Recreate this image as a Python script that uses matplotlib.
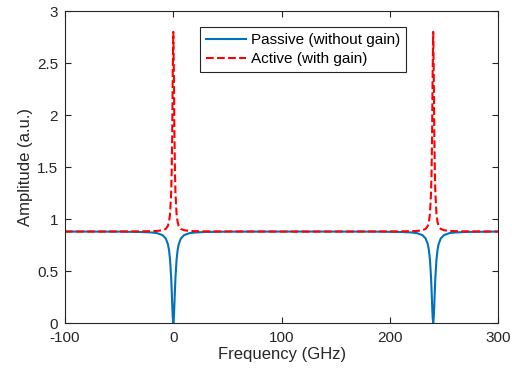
import matplotlib
matplotlib.use("Agg")
import matplotlib.pyplot as plt

plt.rcParams['font.family'] = ['Liberation Sans', 'DejaVu Sans']
plt.rcParams['axes.unicode_minus'] = False

# frequency samples (GHz), dense near the two resonances at 0 and 240 GHz
freq = [-100, -50, -30, -20, -15, -10, -7, -5, -4, -3, -2, -1.5, -1, -0.5, 0,
        0.5, 1, 1.5, 2, 3, 4, 5, 7, 10, 15, 20, 30, 50, 120,
        190, 210, 220, 225, 230, 233, 235, 236, 237, 238, 238.5, 239, 239.5, 240,
        240.5, 241, 241.5, 242, 243, 244, 245, 247, 250, 255, 260, 270, 300]

passive = [0.88, 0.879, 0.876, 0.871, 0.865, 0.846, 0.814, 0.759, 0.704, 0.609, 0.44, 0.317, 0.176, 0.052, 0.0,
           0.052, 0.176, 0.317, 0.44, 0.609, 0.704, 0.759, 0.814, 0.846, 0.865, 0.871, 0.876, 0.879, 0.88,
           0.879, 0.876, 0.871, 0.865, 0.846, 0.814, 0.759, 0.704, 0.609, 0.44, 0.317, 0.176, 0.052, 0.0,
           0.052, 0.176, 0.317, 0.44, 0.609, 0.704, 0.759, 0.814, 0.846, 0.865, 0.871, 0.876, 0.88]

active = [0.88, 0.881, 0.882, 0.884, 0.886, 0.893, 0.905, 0.935, 0.97, 1.05, 1.25, 1.46, 1.84, 2.416, 2.80,
          2.416, 1.84, 1.46, 1.25, 1.05, 0.97, 0.935, 0.905, 0.893, 0.886, 0.884, 0.882, 0.881, 0.88,
          0.881, 0.882, 0.884, 0.886, 0.893, 0.905, 0.935, 0.97, 1.05, 1.25, 1.46, 1.84, 2.416, 2.80,
          2.416, 1.84, 1.46, 1.25, 1.05, 0.97, 0.935, 0.905, 0.893, 0.886, 0.884, 0.882, 0.88]

xticks = [-100, 0, 100, 200, 300]
yticks = [0, 0.5, 1, 1.5, 2, 2.5, 3]

fig = plt.figure(figsize=(5.12, 3.81), dpi=100)
ax = fig.add_axes([0.127, 0.152, 0.846, 0.819])

ax.plot(freq, passive, color="#0072BD", lw=1.5, label="Passive (without gain)")
ax.plot(freq, active, "--", color="r", lw=1.5, label="Active (with gain)")

ax.set_xlim(-100, 300)
ax.set_ylim(0, 3)
ax.set_xticks(xticks)
ax.set_yticks(yticks)
ax.set_yticklabels(["0", "0.5", "1", "1.5", "2", "2.5", "3"])
ax.tick_params(direction="in", top=True, right=True, labelsize=11, colors="#262626",
               length=4, width=0.8)
ax.tick_params(axis="x", pad=6)
ax.tick_params(axis="y", pad=5)
for s in ax.spines.values():
    s.set_color("#262626")
    s.set_linewidth(0.8)

ax.set_xlabel("Frequency (GHz)", fontsize=12, color="#262626", labelpad=1)
ax.set_ylabel("Amplitude (a.u.)", fontsize=12, color="#262626", labelpad=3)

leg = ax.legend(loc="upper left", bbox_to_anchor=(0.312, 0.948), fontsize=11,
                fancybox=False, framealpha=1, edgecolor="#262626",
                handlelength=2.6, borderpad=0.4, labelspacing=0.3, handletextpad=0.3,
                borderaxespad=0)
leg.get_frame().set_linewidth(0.8)

fig.savefig("out.png", dpi=100)
